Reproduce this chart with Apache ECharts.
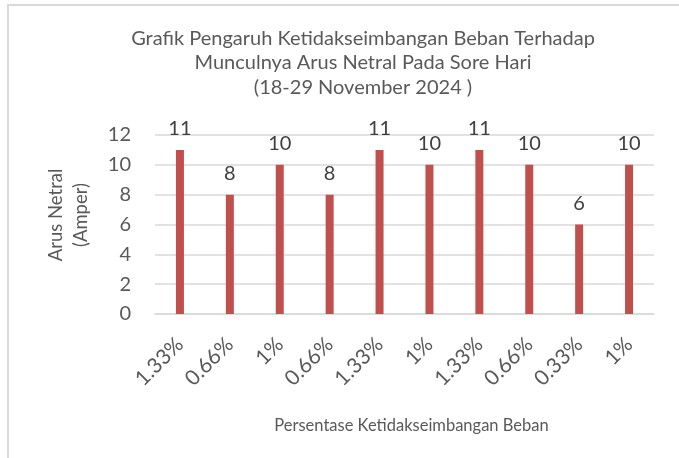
<!DOCTYPE html>
<html>
<head>
<meta charset="utf-8">
<script src="https://cdn.jsdelivr.net/npm/echarts@6/dist/echarts.min.js"></script>
<style>
html, body { margin: 0; padding: 0; background: #fff; }
#frame {
    position: absolute; left: 7px; top: 4px; width: 700px; height: 470px;
    border-top: 2px solid #d9d9d9; border-left: 2px solid #d9d9d9;
}
#chart { position: absolute; left: 0; top: 0; width: 679px; height: 458px; }
</style>
</head>
<body>
<div id="frame"></div>
<div id="chart"></div>
<script>
// percentages on the x axis
var categories = ['1.33%', '0.66%', '1%', '0.66%', '1.33%', '1%', '1.33%', '0.66%', '0.33%', '1%'];
// neutral current (Amper)
var arusNetral = [11, 8, 10, 8, 11, 10, 11, 10, 6, 10];

var fontFam = 'Lato, "Open Sans", sans-serif';
var txt = '#595959';

var chart = echarts.init(document.getElementById('chart'), null, {renderer: 'canvas'});
chart.setOption({
    animation: false,
    backgroundColor: 'transparent',
    textStyle: { fontFamily: fontFam },
    title: {
        text: 'Grafik Pengaruh Ketidakseimbangan Beban Terhadap\nMunculnya Arus Netral Pada Sore Hari\n(18-29 November 2024 )',
        left: 358,
        top: 21,
        textAlign: 'center',
        textStyle: {
            fontFamily: fontFam,
            fontWeight: 'normal',
            fontSize: 20,
            lineHeight: 24.5,
            color: txt
        }
    },
    grid: { left: 155, right: 25, top: 135, bottom: 144, containLabel: false },
    xAxis: {
        type: 'category',
        data: categories,
        name: 'Persentase Ketidakseimbangan Beban',
        nameLocation: 'middle',
        nameGap: 103,
        nameTextStyle: { fontFamily: fontFam, fontSize: 16.5, color: txt, padding: [0, 0, 0, 14] },
        axisLine: { lineStyle: { color: '#d9d9d9', width: 1.5 } },
        axisTick: { show: false },
        axisLabel: {
            rotate: 45,
            interval: 0,
            margin: 27,
            fontFamily: fontFam,
            fontSize: 21,
            color: txt
        }
    },
    yAxis: {
        type: 'value',
        min: 0,
        max: 12,
        interval: 2,
        axisLine: { show: false },
        axisTick: { show: false },
        splitLine: { lineStyle: { color: '#d9d9d9', width: 1.5 } },
        axisLabel: { margin: 24, fontFamily: fontFam, fontSize: 20, color: txt }
    },
    graphic: [{
        type: 'text',
        x: 69,
        y: 215,
        rotation: Math.PI / 2,
        style: {
            text: 'Arus Netral\n(Amper)',
            font: '18.5px ' + fontFam,
            fill: txt,
            align: 'center',
            verticalAlign: 'middle',
            lineHeight: 25
        }
    }],
    series: [{
        type: 'bar',
        data: arusNetral,
        barWidth: 8,
        itemStyle: { color: '#c0504d' },
        label: {
            show: true,
            position: 'top',
            distance: 11,
            fontFamily: fontFam,
            fontSize: 20,
            color: '#404040'
        }
    }]
});
</script>
</body>
</html>
